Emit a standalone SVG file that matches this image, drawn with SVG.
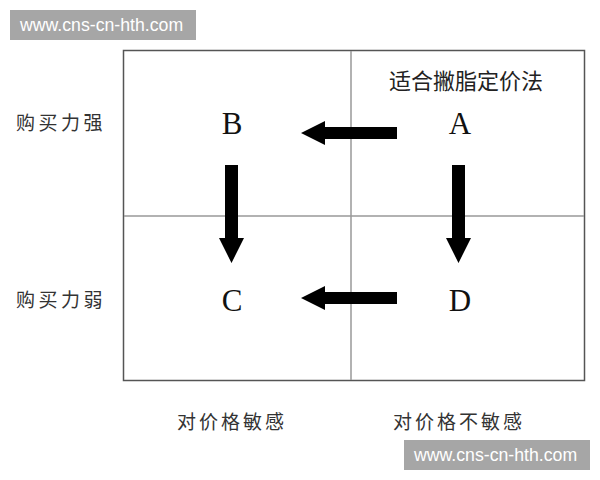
<svg xmlns="http://www.w3.org/2000/svg" width="600" height="480" viewBox="0 0 600 480">
<style>
.wm{fill:#a6a6a6}
.wmt{font-family:"Liberation Sans",Arial,sans-serif;font-size:17.7px;fill:#ffffff}
.grid{fill:none;stroke:#555;stroke-width:1.5}
.div{stroke:#999;stroke-width:1.5}
.let{font-family:"Liberation Serif","Times New Roman",serif;font-size:31px;fill:#111;text-anchor:middle}
.cjk{font-family:"Noto Sans CJK SC","Noto Sans",sans-serif;font-size:19px;fill:#333}
.title{font-family:"Noto Sans CJK SC","Noto Sans",sans-serif;font-size:22px;fill:#222}
.arr{fill:#000}
</style>
<rect width="600" height="480" fill="#fff"/>
<g id="watermark-top">
<rect class="wm" x="10" y="10" width="186" height="30"/>
<text class="wmt" x="20" y="31">www.cns-cn-hth.com</text>
</g>
<g id="grid">
<rect class="grid" x="123.5" y="50.5" width="461" height="330"/>
<line class="div" x1="351" y1="51" x2="351" y2="380"/>
<line class="div" x1="124" y1="216" x2="584" y2="216"/>
</g>
<g id="title"><text class="title" x="466" y="89" text-anchor="middle">适合撇脂定价法</text></g>
<g id="node-B"><text class="let" x="232" y="134">B</text></g>
<g id="node-A"><text class="let" x="460" y="134">A</text></g>
<g id="node-C"><text class="let" x="232" y="311">C</text></g>
<g id="node-D"><text class="let" x="460" y="311">D</text></g>
<g id="axis-labels">
<text class="cjk" x="61" y="130" text-anchor="middle" letter-spacing="3.5">购买力强</text>
<text class="cjk" x="61" y="307" text-anchor="middle" letter-spacing="3.5">购买力弱</text>
<text class="cjk" x="232" y="429" text-anchor="middle" letter-spacing="3">对价格敏感</text>
<text class="cjk" x="459" y="429" text-anchor="middle" letter-spacing="3">对价格不敏感</text>
</g>
<g id="connectors">
<path class="arr" d="M397,127 L325,127 L325,121 L301,133 L325,145 L325,139 L397,139 Z"/>
<path class="arr" d="M397,292 L325,292 L325,286 L301,298 L325,310 L325,304 L397,304 Z"/>
<path class="arr" d="M452,165 L465,165 L465,238 L471,238 L458.5,263 L446,238 L452,238 Z"/>
<path class="arr" d="M225,165 L238,165 L238,238 L244,238 L231.5,263 L219,238 L225,238 Z"/>
</g>
<g id="watermark-bottom">
<rect class="wm" x="404" y="440" width="186" height="30"/>
<text class="wmt" x="414" y="461">www.cns-cn-hth.com</text>
</g>
</svg>
